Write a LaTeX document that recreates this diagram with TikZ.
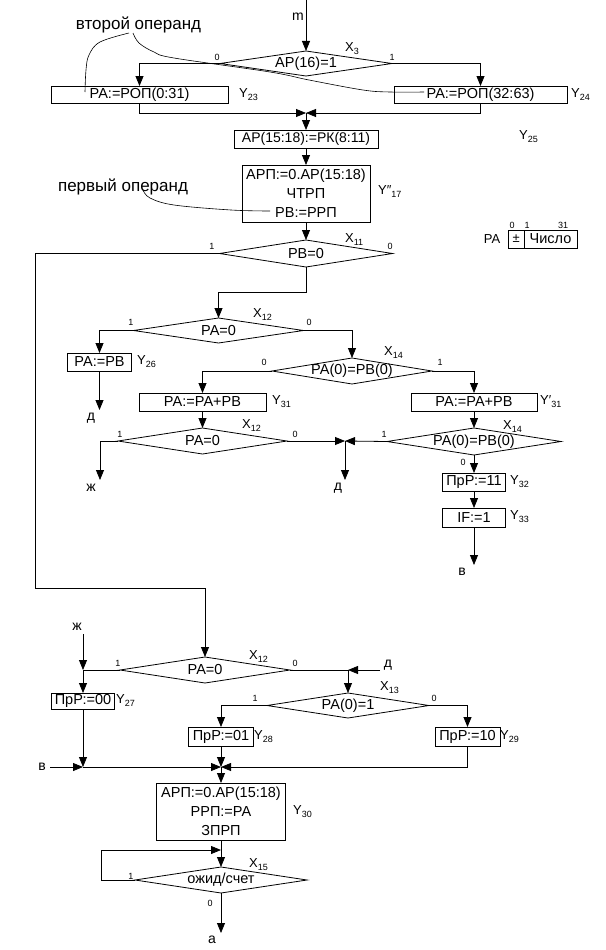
\documentclass[tikz,border=0pt]{standalone}
\usepackage{fontspec}
\setmainfont{Liberation Sans}
\usetikzlibrary{arrows.meta,shapes.geometric}
\newcommand\sbs[2]{#1\raisebox{-3pt}{\fontsize{9}{9}\selectfont #2}}
\begin{document}
\begin{tikzpicture}[x=1pt,y=-1pt,
  every node/.style={font=\fontsize{14.5}{17}\selectfont},
  ln/.style={line width=0.8pt},
  arr/.style={ln,-{Triangle[length=10pt,width=8pt]}},
  box/.style={draw,line width=0.8pt,rectangle,inner sep=0pt,outer sep=0pt},
  dia/.style={draw,line width=0.8pt,diamond,inner sep=0pt,outer sep=0pt},
  ylab/.style={anchor=west,inner sep=0pt,font=\fontsize{13}{13}\selectfont},
  xlab/.style={anchor=west,inner sep=0pt,font=\fontsize{13}{13}\selectfont},
  bit/.style={inner sep=0pt,font=\fontsize{9}{9}\selectfont},
  con/.style={inner sep=0pt,font=\fontsize{14}{14}\selectfont},
  note/.style={inner sep=0pt,font=\fontsize{17}{17}\selectfont},
  ann/.style={line width=0.6pt},
]
\useasboundingbox (0,0) rectangle (605,950);

% ---------- top part
\coordinate (mtop) at (306,0);
\node[con] (lm) at (298,17) {m};
\node[dia,minimum width=172pt,minimum height=25pt,label=center:{АР(16)=1}] (d1) at (306,63.5) {};
\node[xlab] (x3) at (345,49) {\sbs{X}{3}};
\node[bit] (d1a) at (217,57) {0};
\node[bit] (d1b) at (392,57) {1};
\node[box,minimum width=177pt,minimum height=17pt] (b1) at (139.5,94.5) {РА:=РОП(0:31)};
\node[ylab] (y23) at (239,95) {\sbs{Y}{23}};
\node[box,minimum width=173pt,minimum height=17pt] (b2) at (480.5,94.5) {РА:=РОП(32:63)};
\node[ylab] (y24) at (571,95) {\sbs{Y}{24}};
\coordinate (m1) at (306,113);
\node[box,minimum width=144pt,minimum height=18pt,font=\fontsize{14}{17}\selectfont] (b3) at (306,139) {АР(15:18):=РК(8:11)};
\node[ylab] (y25) at (519,137) {\sbs{Y}{25}};
\node[box,minimum width=128pt,minimum height=57pt,align=center,font=\fontsize{14.5}{19}\selectfont] (b4) at (306,193.5) {АРП:=0.АР(15:18)\\ЧТРП\\РВ:=РРП};
\node[ylab] (y17) at (378,192) {\sbs{Y″}{17}};
\node[dia,minimum width=173pt,minimum height=27pt,label=center:{РВ=0}] (d2) at (306,253.5) {};
\node[xlab] (x11) at (345,240) {\sbs{X}{11}};
\node[bit] (d2a) at (212,246) {1};
\node[bit] (d2b) at (390,246) {0};
\coordinate (c2) at (35.5,588);
\coordinate (c4) at (306,292);

% notes
\node[note] (n1) at (138.5,25) {второй операнд};
\node[note] (n2) at (123,187) {первый операнд};

% register PA
\node[inner sep=0pt,font=\fontsize{13}{13}\selectfont] (rpa) at (492,239) {РА};
\node[box,minimum width=15.5pt,minimum height=18pt,font=\fontsize{13}{13}\selectfont] (rsg) at (516.25,239) {±};
\node[box,minimum width=53pt,minimum height=18pt] (rnum) at (550.5,239) {Число};
\node[bit] (r0) at (512,225) {0};
\node[bit] (r1) at (527,225) {1};
\node[bit] (r31) at (563,225) {31};

% ---------- middle part
\node[dia,minimum width=170pt,minimum height=25pt,label=center:{РА=0}] (d3) at (218.5,330.5) {};
\node[xlab] (x12a) at (253,315) {\sbs{X}{12}};
\node[bit] (d3a) at (131,322) {1};
\node[bit] (d3b) at (309,322) {0};
\node[box,minimum width=63.5pt,minimum height=18pt] (b5) at (99.5,362) {РА:=РВ};
\node[ylab] (y26) at (137,362) {\sbs{Y}{26}};
\coordinate (e1) at (99.5,410);
\node[con] (le1) at (91,418) {д};

\node[dia,minimum width=160pt,minimum height=26pt,label=center:{РА(0)=РВ(0)}] (d4) at (352,371) {};
\node[xlab] (x14a) at (384,353) {\sbs{X}{14}};
\node[bit] (d4a) at (264,362) {0};
\node[bit] (d4b) at (440,362) {1};
\node[box,minimum width=127pt,minimum height=18pt] (b6) at (202.5,402) {РА:=РА+РВ};
\node[ylab] (y31) at (272,402) {\sbs{Y}{31}};
\node[box,minimum width=126pt,minimum height=18pt] (b7) at (474,402) {РА:=РА+РВ};
\node[ylab] (y31b) at (540,402) {\sbs{Y′}{31}};

\node[dia,minimum width=169pt,minimum height=26pt,label=center:{РА=0}] (d5) at (202.5,441) {};
\node[xlab] (x12b) at (242,426) {\sbs{X}{12}};
\node[bit] (d5a) at (120,434) {1};
\node[bit] (d5b) at (295,434) {0};
\coordinate (e2) at (100,480);
\node[con] (le2) at (91,488) {ж};
\coordinate (m2) at (345,441);
\coordinate (e3) at (345,480);
\node[con] (le3) at (338,488) {д};

\node[dia,minimum width=174pt,minimum height=27pt,label=center:{РА(0)=РВ(0)}] (d6) at (474,441.5) {};
\node[xlab] (x14b) at (503,427) {\sbs{X}{14}};
\node[bit] (d6a) at (384,434) {1};
\node[bit] (d6b) at (463,462) {0};
\node[box,minimum width=63pt,minimum height=18pt] (b8) at (474,482) {ПрР:=11};
\node[ylab] (y32) at (510,482) {\sbs{Y}{32}};
\node[box,minimum width=63pt,minimum height=19pt] (b9) at (474,517.5) {IF:=1};
\node[ylab] (y33) at (510,517) {\sbs{Y}{33}};
\coordinate (e4) at (474,565);
\node[con] (le4) at (462,572) {в};

% ---------- bottom part
\node[dia,minimum width=170pt,minimum height=26pt,label=center:{РА=0}] (d7) at (205,670) {};
\node[xlab] (x12c) at (249,657) {\sbs{X}{12}};
\node[bit] (d7a) at (118,663) {1};
\node[bit] (d7b) at (295,663) {0};
\node[con] (ls1) at (77,627) {ж};
\coordinate (s1) at (83,634);
\coordinate (j1) at (83,670);
\node[box,minimum width=63.6pt,minimum height=16pt] (b10) at (83,701) {ПрР:=00};
\node[ylab] (y27) at (116,701) {\sbs{Y}{27}};
\coordinate (j2) at (83,767);
\coordinate (s2) at (50,767);
\node[con] (ls2) at (42,767) {в};
\coordinate (j3) at (221,767);
\coordinate (j4) at (348,670);
\coordinate (s3) at (380,670);
\node[con] (ls3) at (388,665) {д};

\node[dia,minimum width=162pt,minimum height=25pt,label=center:{РА(0)=1}] (d8) at (348,705.5) {};
\node[xlab] (x13) at (380,688) {\sbs{X}{13}};
\node[bit] (d8a) at (255,698) {1};
\node[bit] (d8b) at (434,698) {0};
\node[box,minimum width=65pt,minimum height=19pt] (b11) at (221,736.5) {ПрР:=01};
\node[ylab] (y28) at (254,737) {\sbs{Y}{28}};
\node[box,minimum width=65pt,minimum height=19pt] (b12) at (467.5,736.5) {ПрР:=10};
\node[ylab] (y29) at (500,737) {\sbs{Y}{29}};

\node[box,minimum width=129pt,minimum height=57pt,align=center,font=\fontsize{14.5}{19}\selectfont] (b13) at (221,811.5) {АРП:=0.АР(15:18)\\РРП:=РА\\ЗПРП};
\node[ylab] (y30) at (293,812) {\sbs{Y}{30}};
\node[dia,minimum width=172pt,minimum height=26pt,label=center:{ожид/счет}] (d9) at (221,880) {};
\node[xlab] (x15) at (249,865) {\sbs{X}{15}};
\node[bit] (d9a) at (131,876) {1};
\node[bit] (d9b) at (210,903) {0};
\coordinate (l2) at (101,850);
\coordinate (l3) at (221,850);
\coordinate (e5) at (221,933);
\node[con] (le5) at (212,940) {а};

% ---------- connectors
\draw[arr] (mtop) -- (d1.north);
\draw[arr] (d1.west) -| (b1.north);
\draw[arr] (d1.east) -| (b2.north);
\draw[arr] (b1.south) |- (m1);
\draw[arr] (b2.south) |- (m1);
\draw[arr] (m1) -- (b3.north);
\draw[arr] (b3.south) -- (b4.north);
\draw[arr] (b4.south) -- (d2.north);
\draw[arr] (d2.west) -| (c2) -| (d7.north);
\draw[arr] (d2.south) -- (c4) -| (d3.north);
\draw[arr] (d3.west) -| (b5.north);
\draw[arr] (b5.south) -- (e1);
\draw[arr] (d3.east) -| (d4.north);
\draw[arr] (d4.west) -| (b6.north);
\draw[arr] (d4.east) -| (b7.north);
\draw[arr] (b6.south) -- (d5.north);
\draw[arr] (b7.south) -- (d6.north);
\draw[arr] (d5.west) -| (e2);
\draw[arr] (d5.east) -- (m2);
\draw[arr] (d6.west) -- (m2);
\draw[arr] (m2) -- (e3);
\draw[arr] (d6.south) -- (b8.north);
\draw[arr] (b8.south) -- (b9.north);
\draw[arr] (b9.south) -- (e4);

\draw[ln] (d7.west) -- (j1);
\draw[arr] (s1) -- (j1);
\draw[arr] (j1) -- (b10.north);
\draw[arr] (b10.south) -- (j2);
\draw[arr] (s2) -- (j2);
\draw[arr] (j2) -- (j3);
\draw[ln] (d7.east) -- (j4);
\draw[arr] (s3) -- (j4);
\draw[arr] (j4) -- (d8.north);
\draw[arr] (d8.west) -| (b11.north);
\draw[arr] (d8.east) -| (b12.north);
\draw[arr] (b11.south) -- (j3);
\draw[arr] (b12.south) |- (j3);
\draw[arr] (j3) -- (b13.north);
\draw[arr] (b13.south) -- (d9.north);
\draw[arr] (d9.west) -| (l2) -- (l3);
\draw[arr] (d9.south) -- (e5);

% ---------- annotation curves
\draw[ann] plot[smooth,tension=0.6] coordinates {(129,33) (100,42) (89,55) (86,70) (85,92)};
\draw[ann] plot[smooth,tension=0.6] coordinates {(133,33) (139,43) (154,52) (174,58) (270,72) (309,80) (363,90) (390,92) (424,92)};
\draw[ann] plot[smooth,tension=0.6] coordinates {(143,190) (150,198) (174,205) (231,210) (270,211)};
\end{tikzpicture}
\end{document}
